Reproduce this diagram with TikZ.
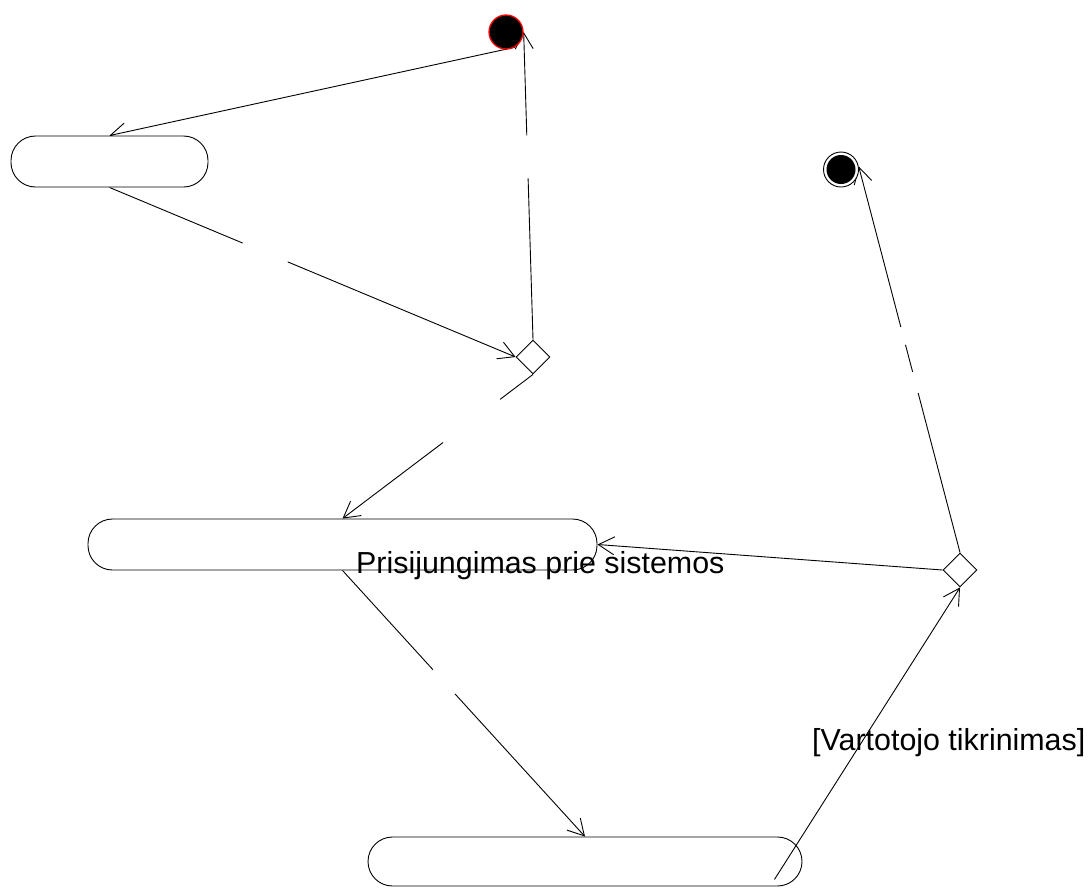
\documentclass[tikz,border=0pt]{standalone}
\usepackage{fontspec}
\setmainfont{Liberation Sans}
\usetikzlibrary{shapes.geometric,arrows.meta,calc}
\pgfdeclarelayer{bg}
\pgfsetlayers{bg,main}
\begin{document}
\begin{tikzpicture}[x=1pt,y=-1pt,
  seg/.style={line width=0.9pt},
  flow/.style={line width=0.9pt,-{Straight Barb[length=16pt,width=18pt,line width=0.9pt]}},
  activity/.style={draw,fill=white,line width=0.9pt,rectangle,rounded corners=24.5pt,inner sep=0pt},
  decision/.style={draw,fill=white,diamond,aspect=1,line width=0.9pt,minimum width=34pt,minimum height=34pt,inner sep=0pt},
  initial/.style={circle,draw=red,fill=black,line width=1.3pt,minimum size=34pt,inner sep=0pt},
  final/.style={circle,draw,fill=white,line width=0.9pt,minimum size=35pt,inner sep=0pt,
    path picture={\fill[black] (path picture bounding box.center) circle (14.5pt);}},
  guard/.style={font=\fontsize{30.4}{36}\selectfont,anchor=base west,inner sep=0pt}]
\useasboundingbox (0,0) rectangle (1091,887);

% nodes
\node[initial] (start) at (506,32) {};
\node[final] (stop) at (841,169.5) {};
\node[activity,minimum width=197pt,minimum height=51pt] (s1) at (109.5,161.5) {};
\node[activity,minimum width=509pt,minimum height=51pt] (s2) at (342.5,544.5) {};
\node[activity,minimum width=434pt,minimum height=49pt] (s3) at (585,861.5) {};
\node[decision] (d1) at (533,357) {};
\node[decision] (d2) at (960,570) {};
\coordinate (s3out) at ($(s3.south east)+(-28,-7)$);

% transitions, kept beneath the nodes
\begin{pgfonlayer}{bg}
  \draw[flow] (start.-60) -- (s1.north);
  \draw[seg] (s1.south) -- ($(s1.south)!0.328!(d1.west)$);
  \draw[flow] ($(s1.south)!0.439!(d1.west)$) -- (d1.west);
  \draw[seg] (d1.north) -- ($(d1.north)!0.524!(start.east)$);
  \draw[flow] ($(d1.north)!0.664!(start.east)$) -- (start.east);
  \draw[seg] (d1.south) -- ($(d1.south)!0.173!(s2.north)$);
  \draw[flow] ($(d1.south)!0.472!(s2.north)$) -- (s2.north);
  \draw[seg] (s2.south) -- ($(s2.south)!0.373!(s3.north)$);
  \draw[flow] ($(s2.south)!0.464!(s3.north)$) -- (s3.north);
  \draw[flow] (d2.west) -- (s2.east);
  \draw[seg] (d2.north) -- ($(d2.north)!0.413!(stop.10)$);
  \draw[seg] ($(d2.north)!0.468!(stop.10)$) -- ($(d2.north)!0.538!(stop.10)$);
  \draw[flow] ($(d2.north)!0.584!(stop.10)$) -- (stop.10);
\end{pgfonlayer}

\draw[flow] (s3out) -- (d2.south);

% labels
\node[guard] (lbl1) at (356,573) {Prisijungimas prie sistemos};
\node[guard] (lbl2) at (812,750) {[Vartotojo tikrinimas]};
\end{tikzpicture}
\end{document}
